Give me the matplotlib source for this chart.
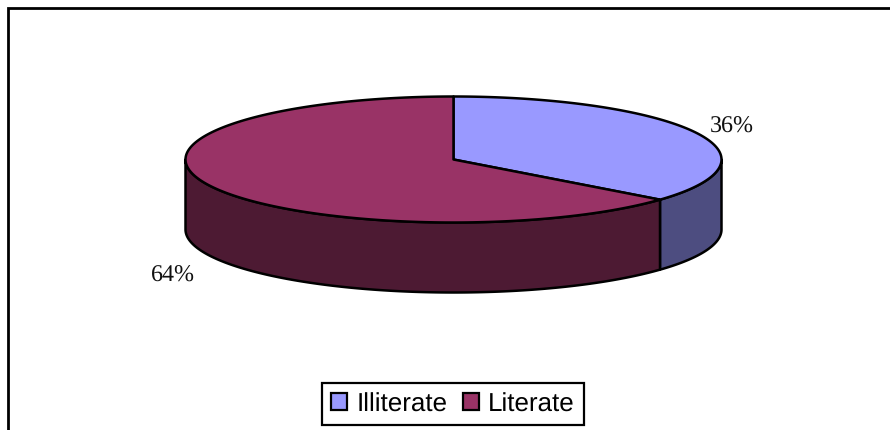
import numpy as np
import matplotlib
matplotlib.use("Agg")
import matplotlib.pyplot as plt
from matplotlib.patches import Patch

labels = ["Illiterate", "Literate"]
shares = [36, 64]
top_colors = ["#9999FF", "#993366"]
side_colors = ["#4D4D80", "#4D1A33"]
pct_labels = ["36%", "64%"]

# pie geometry in pixels
cx, cy = 453.5, 160.5
rx, ry = 268, 63
depth = 70

plt.rcParams["text.hinting"] = "no_hinting"
plt.rcParams["text.hinting_factor"] = 1

def rim(t0, t1, drop=0):
    # t is degrees clockwise from 12 o'clock
    t = np.radians(np.linspace(t0, t1, 200))
    return cx + rx * np.sin(t), cy - ry * np.cos(t) + drop

fig = plt.figure(figsize=(8.9, 4.31), dpi=100)
ax = fig.add_axes([0, 0, 1, 1])
ax.set_xlim(0, 890)
ax.set_ylim(431, 0)
ax.axis("off")

# only the top and left of the chart border are in frame
ax.plot([8, 8, 890], [431, 9, 9], color="black", lw=2, solid_joinstyle="miter")

split = shares[0] / sum(shares) * 360

# front wall, right of the split then left of it
for (t0, t1), col in zip([(90, split), (split, 270)], side_colors):
    x1, y1 = rim(t0, t1)
    x2, y2 = rim(t1, t0, depth)
    ax.fill(np.r_[x1, x2], np.r_[y1, y2], facecolor=col, edgecolor="black", lw=1.8, joinstyle="round")

# top faces
for (t0, t1), col in zip([(0, split), (split, 360)], top_colors):
    x, y = rim(t0, t1)
    ax.fill(np.r_[cx, x], np.r_[cy, y], facecolor=col, edgecolor="black", lw=1.8, joinstyle="round")

serif = "Liberation Serif"
ax.text(732, 127, pct_labels[0], family=serif, fontsize=17.5, ha="center", va="center", color="#111111")
ax.text(172.5, 275.5, pct_labels[1], family=serif, fontsize=17.5, ha="center", va="center", color="#111111")

handles = [Patch(facecolor=c, edgecolor="black", lw=1.6) for c in top_colors]
leg = ax.legend(handles, labels, ncol=2, loc="center", bbox_to_anchor=(453, 405),
                bbox_transform=ax.transData, prop={"family": "Liberation Sans", "size": 18.5},
                fancybox=False, framealpha=1, edgecolor="black", handlelength=0.62, handleheight=0.62,
                handletextpad=0.36, columnspacing=0.62, borderpad=0.36, borderaxespad=0)
leg.get_frame().set_linewidth(1.6)

fig.savefig("out.png", dpi=100)
